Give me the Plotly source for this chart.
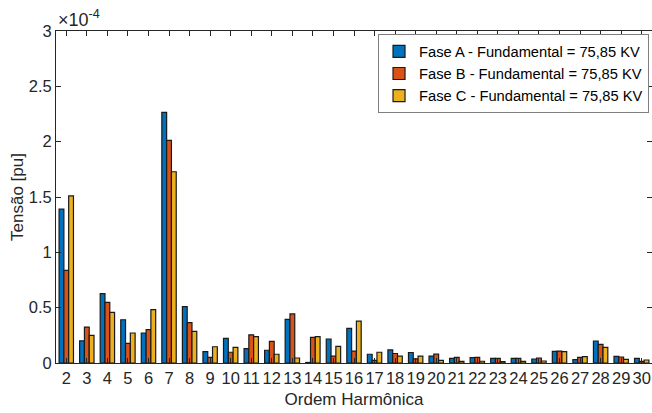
import plotly.graph_objects as go

harmonics = list(range(2, 31))
fase_a = [1.39, 0.20, 0.626, 0.391, 0.271, 2.265, 0.509, 0.102, 0.223, 0.129,
          0.115, 0.395, 0.005, 0.217, 0.313, 0.079, 0.118, 0.095, 0.063, 0.042,
          0.048, 0.042, 0.042, 0.036, 0.105, 0.030, 0.199, 0.060, 0.042]
fase_b = [0.837, 0.325, 0.548, 0.178, 0.301, 2.012, 0.364, 0.051, 0.097, 0.255,
          0.196, 0.443, 0.232, 0.063, 0.108, 0.024, 0.086, 0.038, 0.080, 0.051,
          0.051, 0.042, 0.042, 0.045, 0.108, 0.051, 0.169, 0.054, 0.015]
fase_c = [1.51, 0.25, 0.458, 0.271, 0.482, 1.728, 0.286, 0.147, 0.142, 0.238,
          0.079, 0.045, 0.238, 0.151, 0.379, 0.097, 0.062, 0.062, 0.024, 0.015,
          0.016, 0.012, 0.015, 0.018, 0.102, 0.057, 0.142, 0.033, 0.027]
names = ["Fase A - Fundamental = 75,85 KV",
         "Fase B - Fundamental = 75,85 KV",
         "Fase C - Fundamental = 75,85 KV"]
colors = ["#0072BD", "#D95319", "#EDB120"]
ytickvals = [0, 0.5, 1, 1.5, 2, 2.5, 3]
yticktext = ["0", "0.5", "1", "1.5", "2", "2.5", "3"]

AX = "#262626"
FONT = "Liberation Sans, Arial, sans-serif"

fig = go.Figure()
for vals, name, col in zip([fase_a, fase_b, fase_c], names, colors):
    fig.add_trace(go.Bar(x=harmonics, y=vals, name=name,
                         marker=dict(color=col, line=dict(color="#1a1a1a", width=1.2))))

fig.update_layout(
    width=652, height=413,
    margin=dict(l=56, r=0, t=31, b=50),
    paper_bgcolor="white", plot_bgcolor="white",
    barmode="group", bargap=0.3, bargroupgap=0,
    font=dict(family=FONT, color=AX, size=15),
    showlegend=True,
    legend=dict(x=0.995, y=0.99, xanchor="right", yanchor="top",
                bgcolor="white", bordercolor="#7f7f7f", borderwidth=1,
                font=dict(size=14.7, color="black"), tracegroupgap=0,
                itemwidth=30),
    xaxis=dict(range=[1.5, 30.5], tickmode="array", tickvals=harmonics,
               ticktext=[str(h) for h in harmonics],
               ticks="inside", ticklen=5, tickcolor=AX, tickwidth=1,
               showline=True, linecolor=AX, linewidth=1, mirror="allticks",
               showgrid=False, zeroline=False,
               tickfont=dict(size=16.5, color=AX),
               title=dict(text="Ordem Harmônica", font=dict(size=17, color=AX), standoff=7)),
    yaxis=dict(range=[0, 3], tickmode="array", tickvals=ytickvals, ticktext=yticktext,
               ticks="inside", ticklen=5, tickcolor=AX, tickwidth=1,
               showline=True, linecolor=AX, linewidth=1, mirror="allticks",
               showgrid=False, zeroline=False,
               tickfont=dict(size=16.5, color=AX),
               title=dict(text="Tensão [pu]", font=dict(size=17, color=AX), standoff=0)),
    annotations=[dict(text="×10<sup>-4</sup>", xref="paper", yref="paper",
                      x=0.0, y=1.0, xanchor="left", yanchor="bottom",
                      showarrow=False, font=dict(size=18, color=AX), yshift=-1)],
)

fig.write_html("out.html")
